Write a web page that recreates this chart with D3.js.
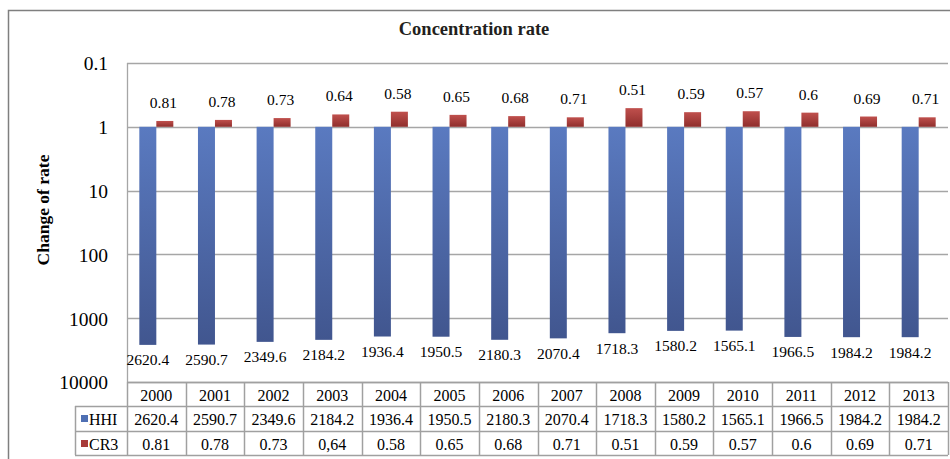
<!DOCTYPE html>
<html><head><meta charset="utf-8">
<script src="https://cdn.jsdelivr.net/npm/d3@7"></script>
<style>
html,body{margin:0;padding:0;background:#fff;}
svg text{font-family:"Liberation Serif","Times New Roman",Times,"DejaVu Serif",serif !important;}
</style></head>
<body><svg id="chart" width="950" height="459"></svg>
<script>
const years = ["2000","2001","2002","2003","2004","2005","2006","2007","2008","2009","2010","2011","2012","2013"];
const hhi = [2620.4,2590.7,2349.6,2184.2,1936.4,1950.5,2180.3,2070.4,1718.3,1580.2,1565.1,1966.5,1984.2,1984.2];
const cr3 = [0.81,0.78,0.73,0.64,0.58,0.65,0.68,0.71,0.51,0.59,0.57,0.6,0.69,0.71];
const hhiLabels = ["2620.4","2590.7","2349.6","2184.2","1936.4","1950.5","2180.3","2070.4","1718.3","1580.2","1565.1","1966.5","1984.2","1984.2"];
const cr3Labels = ["0.81","0.78","0.73","0,64","0.58","0.65","0.68","0.71","0.51","0.59","0.57","0.6","0.69","0.71"];
const cr3BarLabels = ["0.81","0.78","0.73","0.64","0.58","0.65","0.68","0.71","0.51","0.59","0.57","0.6","0.69","0.71"];
const yTicks = [0.1,1,10,100,1000,10000];
const yTickLabels = ["0.1","1","10","100","1000","10000"];
const seriesNames = ["HHI","CR3"];

const FONT = "'Liberation Serif','Times New Roman',Times,'DejaVu Serif',serif";
const svg = d3.select("#chart");
const L = 127, R = 948, T = 63, B = 382;
const gridColor = "#a6a6a6";

const defs = svg.append("defs");
function grad(id, c1, c2){
  const g = defs.append("linearGradient").attr("id",id).attr("x1",0).attr("y1",0).attr("x2",0).attr("y2",1);
  g.append("stop").attr("offset","0%").attr("stop-color",c1);
  g.append("stop").attr("offset","100%").attr("stop-color",c2);
}
grad("gBlue","#5a7ac0","#41568f");
grad("gRed","#c0504d","#8f2e2c");

// outer border
svg.append("path").attr("d",`M8.5,459 V10.5 H950`).attr("fill","none").attr("stroke","#7f7f7f").attr("stroke-width",1.5);

// title
svg.append("text").attr("x",474).attr("y",35).attr("text-anchor","middle").attr("font-family",FONT)
  .attr("font-size",18.5).attr("font-weight","bold").attr("fill","#231f20").text("Concentration rate");

// y title
svg.append("text").attr("transform","translate(49,210) rotate(-90)").attr("text-anchor","middle").attr("font-family",FONT)
  .attr("font-size",17.5).attr("font-weight","bold").attr("fill","#000").text("Change of rate");

const x = d3.scaleBand().domain(years).range([L,R]);
const y = d3.scaleLog().domain([0.1,10000]).range([T,B]);

// gridlines
svg.append("g").selectAll("line").data(yTicks).join("line")
  .attr("x1",L).attr("x2",R).attr("y1",d=>Math.round(y(d))+0.5).attr("y2",d=>Math.round(y(d))+0.5)
  .attr("stroke",gridColor).attr("stroke-width",1.3);
svg.append("line").attr("x1",L+0.5).attr("x2",L+0.5).attr("y1",T).attr("y2",B).attr("stroke",gridColor).attr("stroke-width",1.3);

// y axis
const yAxis = d3.axisLeft(y).tickValues(yTicks).tickSize(0).tickPadding(19)
  .tickFormat((d,i)=>yTickLabels[i]);
const ya = svg.append("g").attr("transform",`translate(${L},0)`).call(yAxis);
ya.attr("font-family",FONT);
ya.select(".domain").remove();
ya.selectAll("text").attr("font-size",19.5).attr("font-family",FONT).attr("fill","#000").attr("dy","0.35em");

const bw = 17;
const cx = d => x(d) + x.bandwidth()/2;

// HHI bars
svg.append("g").selectAll("rect").data(years).join("rect")
  .attr("x",(d)=>cx(d)-bw).attr("width",bw)
  .attr("y",y(1)).attr("height",(d,i)=>y(hhi[i])-y(1))
  .attr("fill","url(#gBlue)");
// CR3 bars
svg.append("g").selectAll("rect").data(years).join("rect")
  .attr("x",(d)=>cx(d)).attr("width",bw)
  .attr("y",(d,i)=>y(cr3[i])).attr("height",(d,i)=>y(1)-y(cr3[i]))
  .attr("fill","url(#gRed)");

// labels
svg.append("g").selectAll("text").data(years).join("text").attr("font-family",FONT)
  .attr("x",d=>cx(d)-bw/2).attr("y",(d,i)=>y(hhi[i])+20.5)
  .attr("text-anchor","middle").attr("font-size",15.5).attr("fill","#000")
  .text((d,i)=>hhiLabels[i]);
svg.append("g").selectAll("text").data(years).join("text").attr("font-family",FONT)
  .attr("x",d=>cx(d)+bw/2-1.5).attr("y",(d,i)=>y(cr3[i])-13)
  .attr("text-anchor","middle").attr("font-size",15.5).attr("fill","#000")
  .text((d,i)=>cr3BarLabels[i]);

// data table
const rowY = [382,406,431,455];
const legL = 75;
const tg = svg.append("g").attr("font-family",FONT);
const tc = "#a0a0a0";
tg.append("line").attr("x1",L).attr("x2",R).attr("y1",rowY[0]+0.5).attr("y2",rowY[0]+0.5).attr("stroke",tc).attr("stroke-width",1.5);
[rowY[1],rowY[2],rowY[3]].forEach(yy=>{
  tg.append("line").attr("x1",legL).attr("x2",R).attr("y1",yy+0.5).attr("y2",yy+0.5).attr("stroke",tc).attr("stroke-width",1.5);
});
tg.selectAll("line.v").data(years.concat(["end"])).join("line").attr("class","v")
  .attr("x1",(d,i)=>Math.round(L+i*x.step())+0.5).attr("x2",(d,i)=>Math.round(L+i*x.step())+0.5)
  .attr("y1",rowY[0]).attr("y2",rowY[3]).attr("stroke",tc).attr("stroke-width",1.5);
tg.append("line").attr("x1",legL+0.5).attr("x2",legL+0.5).attr("y1",rowY[1]).attr("y2",rowY[3]).attr("stroke",tc).attr("stroke-width",1.5);

tg.selectAll("text.h").data(years).join("text").attr("class","h")
  .attr("x",d=>cx(d)).attr("y",rowY[0]+18.5).attr("text-anchor","middle").attr("font-size",16).attr("fill","#000").text(d=>d);
tg.selectAll("text.r1").data(years).join("text").attr("class","r1")
  .attr("x",d=>cx(d)).attr("y",rowY[1]+18.5).attr("text-anchor","middle").attr("font-size",16).attr("fill","#000").text((d,i)=>hhiLabels[i]);
tg.selectAll("text.r2").data(years).join("text").attr("class","r2")
  .attr("x",d=>cx(d)).attr("y",rowY[2]+18.5).attr("text-anchor","middle").attr("font-size",16).attr("fill","#000").text((d,i)=>cr3Labels[i]);

const legColors = ["#4f6fb3","#a83a38"];
seriesNames.forEach((s,i)=>{
  const yy = rowY[i+1];
  tg.append("rect").attr("x",81).attr("y",yy+9).attr("width",7).attr("height",7).attr("fill",legColors[i]);
  tg.append("text").attr("x",89).attr("y",yy+18.5).attr("font-size",16).attr("fill","#000").text(s);
});
</script></body></html>
